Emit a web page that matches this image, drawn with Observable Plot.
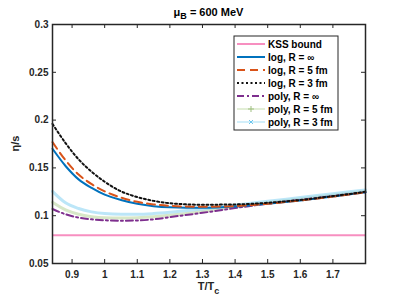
<!DOCTYPE html>
<html><head><meta charset="utf-8">
<script src="https://cdn.jsdelivr.net/npm/d3@7"></script>
<script src="https://cdn.jsdelivr.net/npm/@observablehq/plot@0.6"></script>
<style>body{margin:0;background:#fff}#chart{position:relative;width:403px;height:303px}</style>
</head><body><div id="chart"></div>
<script>
const T = [0.84, 0.88, 0.92, 0.96, 1.0, 1.05, 1.1, 1.15, 1.2, 1.3, 1.4, 1.5, 1.6, 1.7, 1.8];
const logInf  = [0.170, 0.152, 0.138, 0.129, 0.122, 0.1165, 0.1125, 0.1100, 0.1088, 0.1082, 0.1095, 0.1125, 0.1160, 0.1200, 0.1245];
const log5fm  = [0.177, 0.158, 0.143, 0.133, 0.1255, 0.119, 0.1145, 0.1118, 0.1103, 0.1093, 0.1100, 0.1125, 0.1160, 0.1200, 0.1245];
const log3fm  = [0.196, 0.176, 0.159, 0.146, 0.1355, 0.1255, 0.1195, 0.1155, 0.1130, 0.1115, 0.1118, 0.1135, 0.1165, 0.1205, 0.1250];
const polyInf = [0.107, 0.1015, 0.0980, 0.0962, 0.0952, 0.0948, 0.0950, 0.0962, 0.0985, 0.1030, 0.1080, 0.1125, 0.1165, 0.1205, 0.1245];
const poly5fm = [0.114, 0.106, 0.1015, 0.0990, 0.0978, 0.0975, 0.0978, 0.0988, 0.1005, 0.1045, 0.1090, 0.1135, 0.1175, 0.1215, 0.1255];
const poly3fm = [0.1255, 0.1135, 0.1075, 0.1040, 0.1022, 0.1015, 0.1015, 0.1022, 0.1035, 0.1070, 0.1110, 0.1150, 0.1190, 0.1230, 0.1270];
const kss = 1 / (4 * Math.PI);
const xTicks = [0.9, 1.0, 1.1, 1.2, 1.3, 1.4, 1.5, 1.6, 1.7];
const yTicks = [0.05, 0.1, 0.15, 0.2, 0.25, 0.3];
const legendNames = ["KSS bound", "log, R = ∞", "log, R = 5 fm", "log, R = 3 fm", "poly, R = ∞", "poly, R = 5 fm", "poly, R = 3 fm"];

const styles = {
  "KSS bound":      {stroke: "#f78fc0", width: 2, dash: null},
  "log, R = ∞":     {stroke: "#0072BD", width: 2, dash: null},
  "log, R = 5 fm":  {stroke: "#D95319", width: 2, dash: "8,5"},
  "log, R = 3 fm":  {stroke: "#111111", width: 2, dash: "2,2.5"},
  "poly, R = ∞":    {stroke: "#7E2F8E", width: 2, dash: "7,3,2,3"},
  "poly, R = 5 fm": {stroke: "#b7d49a", width: 3, dash: null, op: 0.55},
  "poly, R = 3 fm": {stroke: "#8fd6f3", width: 3, dash: null, op: 0.6}
};
const seriesVals = {
  "log, R = ∞": logInf, "log, R = 5 fm": log5fm, "log, R = 3 fm": log3fm,
  "poly, R = ∞": polyInf, "poly, R = 5 fm": poly5fm, "poly, R = 3 fm": poly3fm
};
const drawOrder = ["poly, R = 5 fm", "poly, R = 3 fm", "poly, R = ∞", "log, R = ∞", "log, R = 5 fm", "log, R = 3 fm"];

const W = 403, H = 303, mL = 52, mR = 38, mT = 24, mB = 40;
const fw = W - mL - mR, fh = H - mT - mB;
const tk = 4;

const lineMarks = drawOrder.map(name => {
  const s = styles[name];
  const rows = T.map((t, i) => ({T: t, v: seriesVals[name][i]}));
  return Plot.line(rows, {x: "T", y: "v", curve: "monotone-x", stroke: s.stroke, strokeWidth: s.width,
    strokeDasharray: s.dash || undefined, strokeOpacity: s.op || 1});
});

const svg = Plot.plot({
  width: W, height: H, marginLeft: mL, marginRight: mR, marginTop: mT, marginBottom: mB,
  x: {domain: [0.84, 1.8]},
  y: {domain: [0.05, 0.3]},
  style: {fontFamily: "'Liberation Sans', Arial, sans-serif", fontSize: "10px", fontWeight: "bold", color: "#262626", background: "#fff"},
  marks: [
    Plot.ruleY([kss], {stroke: styles["KSS bound"].stroke, strokeWidth: 2}),
    ...lineMarks,
    Plot.tickX(xTicks, {x: d => d, insetTop: fh - tk, stroke: "#262626"}),
    Plot.tickX(xTicks, {x: d => d, insetBottom: fh - tk, stroke: "#262626"}),
    Plot.tickY(yTicks, {y: d => d, insetRight: fw - tk, stroke: "#262626"}),
    Plot.tickY(yTicks, {y: d => d, insetLeft: fw - tk, stroke: "#262626"}),
    Plot.frame({stroke: "#262626", strokeWidth: 1.5}),
    Plot.axisX(xTicks, {tickSize: 0, tickPadding: 7, label: null, tickFormat: d3.format("~g")}),
    Plot.axisY(yTicks, {tickSize: 0, tickPadding: 4, label: null, tickFormat: d3.format("~g")})
  ]
});
document.getElementById("chart").appendChild(svg);

const s = d3.select(svg);
const font = "'Liberation Sans', Arial, sans-serif";
// title
const title = s.append("text").attr("x", mL + fw / 2).attr("y", 16).attr("text-anchor", "middle")
  .attr("font-family", font).attr("font-size", 11).attr("font-weight", "bold").attr("fill", "#000");
title.append("tspan").text("μ");
title.append("tspan").attr("dy", 3).attr("font-size", 9).text("B");
title.append("tspan").attr("dy", -3).text(" = 600 MeV");
// x label
const xl = s.append("text").attr("x", mL + fw / 2).attr("y", 290).attr("text-anchor", "middle")
  .attr("font-family", font).attr("font-size", 11).attr("font-weight", "bold").attr("fill", "#262626");
xl.append("tspan").text("T/T");
xl.append("tspan").attr("dy", 4).attr("font-size", 9).text("c");
// y label
s.append("text").attr("transform", `translate(19,${mT + fh / 2}) rotate(-90)`).attr("text-anchor", "middle")
  .attr("font-family", font).attr("font-size", 11).attr("font-weight", "bold").attr("fill", "#262626").text("η/s");

// legend
const lg = s.append("g").attr("transform", "translate(234,36)").attr("text-anchor", "start");
lg.append("rect").attr("width", 104).attr("height", 94).attr("fill", "#fff").attr("stroke", "#262626").attr("stroke-width", 1);
legendNames.forEach((name, i) => {
  const st = styles[name];
  const y = 8 + i * 13;
  const ln = lg.append("line").attr("x1", 3).attr("x2", 31).attr("y1", y).attr("y2", y)
    .attr("stroke", st.stroke).attr("stroke-width", st.op ? 1 : st.width);
  if (st.dash) ln.attr("stroke-dasharray", st.dash);
  if (st.op) ln.attr("stroke-opacity", 0.8);
  if (name === "poly, R = 5 fm") {
    lg.append("path").attr("d", `M17,${y-3}V${y+3}M14,${y}H20`).attr("stroke", "#9fbf80").attr("stroke-width", 1);
  }
  if (name === "poly, R = 3 fm") {
    lg.append("path").attr("d", `M15,${y-2}L19,${y+2}M15,${y+2}L19,${y-2}`).attr("stroke", "#6cc6ee").attr("stroke-width", 1);
  }
  lg.append("text").attr("x", 34).attr("y", y + 3.5).attr("text-anchor", "start").attr("font-family", font).attr("font-size", 10)
    .attr("font-weight", "bold").attr("fill", "#000").text(name);
});
</script>
</body></html>
